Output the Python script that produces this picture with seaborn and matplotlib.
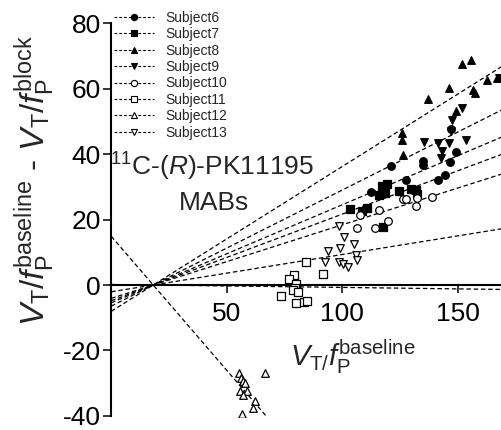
import numpy as np
import pandas as pd
import matplotlib
matplotlib.use("Agg")
import matplotlib.pyplot as plt
from matplotlib.lines import Line2D
import seaborn as sns

# ---------------- data ----------------
subjects = ["Subject6", "Subject7", "Subject8", "Subject9",
            "Subject10", "Subject11", "Subject12", "Subject13"]
markers = ["o", "s", "^", "v", "o", "s", "^", "v"]
filled = [True, True, True, True, False, False, False, False]

s6_x = [121.3, 134.8, 134.9, 147.1, 149.2, 146.7, 144.6, 141.5, 127.6, 112.6, 130.6]
s6_y = [36.5, 38.0, 36.7, 47.6, 40.8, 37.5, 33.6, 32.2, 32.0, 28.4, 29.2]
s7_x = [117.1, 119.5, 116.1, 118.5, 124.6, 129.8, 131.9, 132.2, 103.4, 108.4, 110.6, 117.5]
s7_y = [30.3, 31.0, 27.5, 28.2, 28.8, 29.4, 29.1, 27.8, 23.2, 22.7, 23.6, 17.6]
s8_x = [151.8, 155.6, 146.4, 137.3, 162.8, 167.1, 156.8, 157.5, 149.3, 126.0, 126.0, 126.2]
s8_y = [67.6, 68.8, 60.2, 56.9, 62.7, 63.4, 59.6, 58.6, 53.3, 46.4, 44.3, 39.8]
s9_x = [147.4, 151.7, 135.4, 141.3, 146.2, 153.5, 143.2, 142.8, 147.1, 167.9]
s9_y = [50.5, 54.2, 43.8, 43.5, 43.5, 44.3, 41.1, 38.7, 47.1, 63.3]
s10_x = [126.2, 127.6, 132.4, 138.7, 132.0, 116.1, 107.9, 119.7, 114.2, 106.5]
s10_y = [26.2, 26.2, 26.5, 27.0, 24.2, 22.9, 21.3, 19.6, 17.5, 17.3]
s11_x = [84.5, 91.6, 79.2, 77.1, 80.2, 79.6, 78.6, 80.7, 73.4, 80.1, 83.6, 84.6]
s11_y = [6.9, 3.4, 3.1, 1.7, 0.3, -0.9, -1.5, -2.0, -3.4, -5.6, -5.3, -4.9]
s12_x = [55.5, 56.1, 57.1, 57.9, 58.7, 55.8, 56.9, 62.3, 61.3, 56.7, 66.6]
s12_y = [-27.0, -28.3, -29.4, -30.1, -32.3, -32.3, -33.6, -35.5, -37.7, -39.4, -26.9]
s13_x = [98.8, 100.9, 105.2, 98.9, 94.0, 105.8, 106.3, 92.6, 98.7, 100.5, 102.4]
s13_y = [18.2, 14.8, 12.6, 11.4, 10.4, 9.2, 7.6, 6.9, 7.0, 6.5, 5.4]

xs = [s6_x, s7_x, s8_x, s9_x, s10_x, s11_x, s12_x, s13_x]
ys = [s6_y, s7_y, s8_y, s9_y, s10_y, s11_y, s12_y, s13_y]

# Lassen-plot fits: slope (occupancy) and x-intercept (V_ND)
slopes = [0.300, 0.265, 0.443, 0.355, 0.225, -0.009, -0.82, 0.114]
vnd = [18.2] * 8

y_ticks = [-40, -20, 0, 20, 40, 60, 80]
x_ticks = [50, 100, 150]

# ---------------- style ----------------
sns.set_theme(style="ticks")
plt.rcParams["font.family"] = ["Liberation Sans", "DejaVu Sans"]
plt.rcParams["mathtext.fontset"] = "custom"
plt.rcParams["mathtext.rm"] = "Liberation Sans"
plt.rcParams["mathtext.it"] = "Liberation Sans:italic"
plt.rcParams["mathtext.bf"] = "Liberation Sans:bold"
plt.rcParams["axes.unicode_minus"] = False

df = pd.concat([pd.DataFrame({"x": x, "y": y, "subject": s})
                for s, x, y in zip(subjects, xs, ys)], ignore_index=True)

fig = plt.figure(figsize=(5.02, 4.30), dpi=100)
ax = fig.add_axes([0.2215, 0.0293, 0.78, 0.9237])

dash = (3.6, 2.2)
for i, s in enumerate(subjects):
    ax.axline((vnd[i], 0), slope=slopes[i], color="black", lw=0.9,
              dashes=dash, zorder=2)
    sub = df[df.subject == s]
    sns.scatterplot(data=sub, x="x", y="y", marker=markers[i], ax=ax,
                    color="black" if filled[i] else "white",
                    edgecolor="black", linewidth=0.9, s=30, zorder=3,
                    legend=False)

ax.set_xlim(0, 169.5)
ax.set_ylim(-40.5, 81)
ax.set_xticks(x_ticks)
ax.set_yticks(y_ticks)
ax.set_xlabel("")
ax.set_ylabel("")

for sp in ["top", "right"]:
    ax.spines[sp].set_visible(False)
ax.spines["bottom"].set_position(("data", 0))
ax.spines["left"].set_bounds(-40, 80)
for sp in ["left", "bottom"]:
    ax.spines[sp].set_linewidth(1.5)
    ax.spines[sp].set_color("black")
ax.tick_params(axis="both", direction="out", length=6, width=1.1,
               colors="black", labelsize=19)
ax.tick_params(axis="y", pad=1.5)
ax.tick_params(axis="x", pad=6)

# legend
handles = [Line2D([0], [0], color="black", lw=0.8, dashes=(2.5, 1.8),
                  marker=m, markersize=4.5,
                  markerfacecolor="black" if f else "white",
                  markeredgecolor="black", markeredgewidth=0.8)
           for m, f in zip(markers, filled)]
fig.legend(handles, subjects, loc="upper left",
           bbox_to_anchor=(114 / 502, 1 - 11 / 430), frameon=False,
           fontsize=10, handlelength=2.9, handletextpad=0.8,
           labelspacing=0.17, borderpad=0, borderaxespad=0, numpoints=1)

# annotation
fig.text(212 / 502, 1 - 167 / 430, r"$^{11}$C-($\mathit{R}$)-PK11195",
         ha="center", va="center", fontsize=19)
fig.text(214 / 502, 1 - 203 / 430, "MABs", ha="center", va="center",
         fontsize=19)

# axis labels
fig.text(353 / 502, 1 - 357 / 430,
         r"$V_{\mathrm{T}/}f_{\mathrm{P}}^{\mathrm{baseline}}$",
         ha="center", va="center", fontsize=21)
fig.text(35 / 502, 1 - 181 / 430,
         r"$V_{\mathrm{T}}/f_{\mathrm{P}}^{\mathrm{baseline}}$ - "
         r"$V_{\mathrm{T}}/f_{\mathrm{P}}^{\mathrm{block}}$",
         ha="center", va="center", rotation=90, fontsize=24)

fig.savefig("out.png", dpi=100)
